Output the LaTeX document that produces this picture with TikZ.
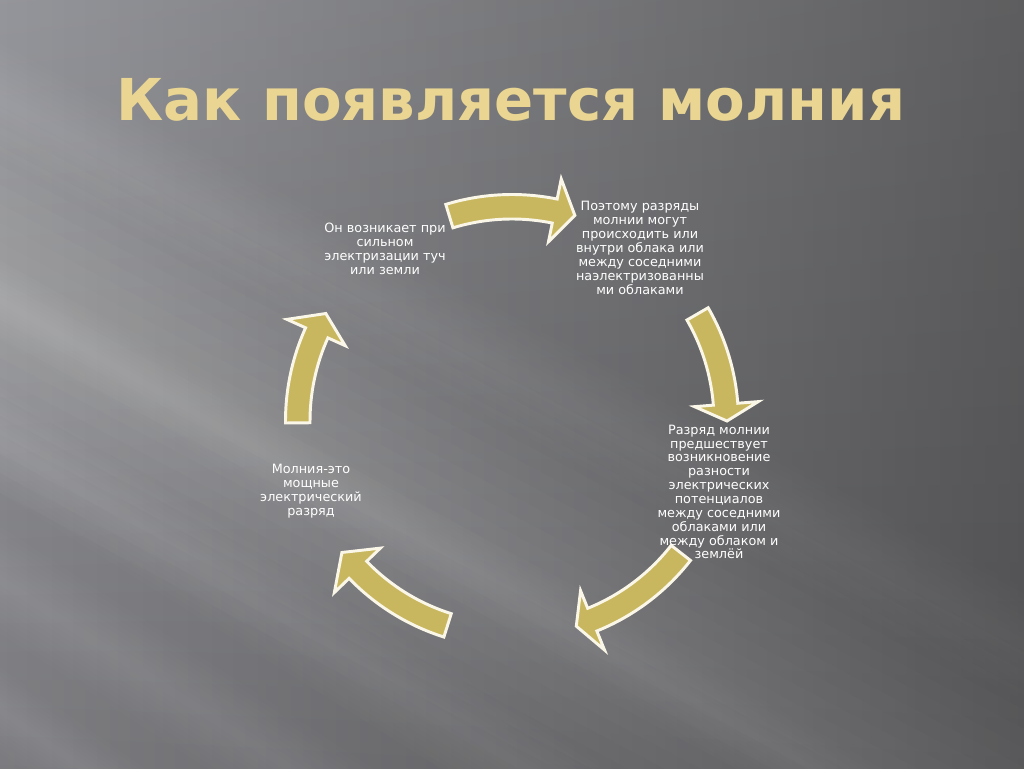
\documentclass[tikz,border=0pt]{standalone}
\usepackage{fontspec}
\setmainfont{DejaVu Sans}
\usetikzlibrary{fadings,shadings}
\tikzfading[name=fadeR, left color=transparent!100, right color=transparent!0]
\definecolor{arrowgold}{RGB}{201,183,96}
\definecolor{titlegold}{RGB}{234,214,146}
\definecolor{rimwhite}{RGB}{250,247,232}
\definecolor{bgUL}{RGB}{150,151,156}
\definecolor{bgUR}{RGB}{146,146,149}
\definecolor{bgLL}{RGB}{124,124,128}
\definecolor{bgLR}{RGB}{126,126,129}
\newcommand{\bgstreak}[4]{%
  \foreach \f in {1,0.9,0.8,0.7,0.6,0.5,0.4,0.3,0.2,0.1}{%
    \fill[white, opacity=#4, rotate around={#3:(0,#1)}] (-400,#1-\f*#2) rectangle (1900,#1+\f*#2);}}
\newcommand{\cyclearrow}[3]{%
  \draw[cyclearrowstyle] (#1:226.5) arc[start angle=#1, end angle=#2, radius=226.5]
    -- (#2:247) -- (#3:215) -- (#2:183) -- (#2:202)
    arc[start angle=#2, end angle=#1, radius=202] -- cycle;}
\begin{document}
\begin{tikzpicture}[x=0.75pt, y=-0.75pt,
  cyclearrowstyle/.style={fill=arrowgold, draw=rimwhite, line width=2.2pt, line join=miter},
  celltext/.style={text=white, align=center, inner sep=0pt,
    font=\fontsize{9.6}{10.4}\selectfont},
  titletext/.style={text=titlegold, inner sep=0pt, anchor=base,
    font=\fontsize{43.3}{50}\selectfont\bfseries}]
\useasboundingbox (0,0) rectangle (1024,768);
\clip (0,0) rectangle (1024,768);
% background
\shade[upper left=bgUL, upper right=bgUR, lower left=bgLL, lower right=bgLR] (-10,-10) rectangle (1034,778);
\bgstreak{100}{50}{-28}{0.012}
\bgstreak{300}{170}{-28}{0.02}
\bgstreak{300}{35}{-30}{0.012}
\bgstreak{440}{45}{-32}{0.014}
\bgstreak{580}{45}{-33}{0.012}
\bgstreak{710}{35}{-35}{0.01}
\fill[black, opacity=0.36, path fading=fadeR] (-10,-10) rectangle (1034,778);
% title
\node[titletext] (title) at (511,120) {Как появляется молния};
% cycle arrows
\begin{scope}[shift={(512,421)}, yscale=-1]
  \cyclearrow{107}{78.5}{73}
  \cyclearrow{30}{4.5}{0}
  \cyclearrow{-38}{-68}{-72.6}
  \cyclearrow{-107.5}{-136}{-142.3}
  \cyclearrow{180.5}{155.7}{150}
\end{scope}
% texts
\node[celltext] (t1) at (385,249) {Он возникает при\\сильном\\электризации туч\\или земли};
\node[celltext] (t2) at (640,248) {Поэтому разряды\\молнии могут\\происходить или\\внутри облака или\\между соседними\\наэлектризованны\\ми облаками};
\node[celltext] (t3) at (719,492) {Разряд молнии\\предшествует\\возникновение\\разности\\электрических\\потенциалов\\между соседними\\облаками или\\между облаком и\\землёй};
\node[celltext] (t4) at (311,491) {Молния-это\\мощные\\электрический\\разряд};
\end{tikzpicture}
\end{document}
